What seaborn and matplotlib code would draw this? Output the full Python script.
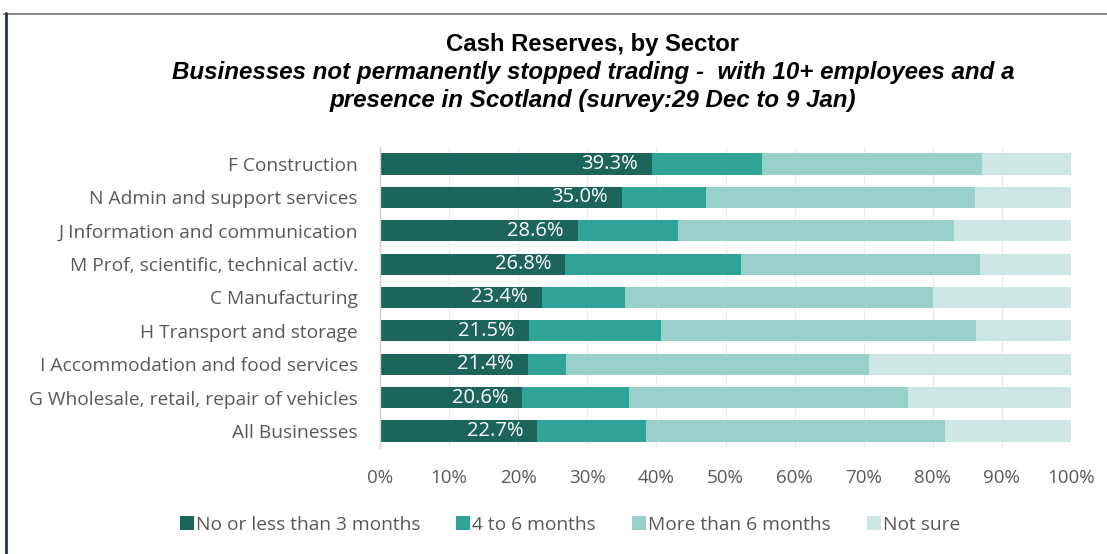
import numpy as np
import pandas as pd
import matplotlib
matplotlib.use("Agg")
import matplotlib.pyplot as plt
from matplotlib.patches import Patch
from matplotlib.lines import Line2D
from matplotlib.ticker import PercentFormatter
import seaborn as sns

# Share of businesses by cash reserves horizon, per sector (%)
sectors = [
    "F Construction",
    "N Admin and support services",
    "J Information and communication",
    "M Prof, scientific, technical activ.",
    "C Manufacturing",
    "H Transport and storage",
    "I Accommodation and food services",
    "G Wholesale, retail, repair of vehicles",
    "All Businesses",
]
under_3_months = [39.3, 35.0, 28.6, 26.8, 23.4, 21.5, 21.4, 20.6, 22.7]
months_4_to_6 = [16.0, 12.2, 14.5, 25.5, 12.0, 19.2, 5.5, 15.4, 15.8]
over_6_months = [31.8, 38.9, 39.9, 34.5, 44.7, 45.5, 43.9, 40.4, 43.2]
not_sure = [12.9, 13.9, 17.0, 13.2, 19.9, 13.8, 29.2, 23.6, 18.3]

series_names = ["No or less than 3 months", "4 to 6 months",
                "More than 6 months", "Not sure"]
colors = ["#1d645b", "#2fa398", "#97d1ca", "#cde8e4"]
tick_values = [0, 10, 20, 30, 40, 50, 60, 70, 80, 90, 100]

title = "Cash Reserves, by Sector"
subtitle_lines = [
    "Businesses not permanently stopped trading -  with 10+ employees and a",
    "presence in Scotland (survey:29 Dec to 9 Jan)",
]

text_gray = "#595959"
ui_font = ["Open Sans", "DejaVu Sans"]
title_font = ["Liberation Sans", "DejaVu Sans"]

sns.set_theme(style="white")
plt.rcParams["font.family"] = ui_font

df = pd.DataFrame({
    "sector": sectors,
    series_names[0]: under_3_months,
    series_names[1]: months_4_to_6,
    series_names[2]: over_6_months,
    series_names[3]: not_sure,
})
cumulative = df[series_names].cumsum(axis=1).assign(sector=sectors)

fig = plt.figure(figsize=(11.07, 5.54), dpi=100)
ax = fig.add_axes([380 / 1107, 1 - 447.7 / 554, (1071 - 380) / 1107,
                   (447.7 - 147.3) / 554])

# Stacked bars: draw cumulative totals from the widest down so each
# segment shows its own share.
for name, color in reversed(list(zip(series_names, colors))):
    sns.barplot(data=cumulative, x=name, y="sector", orient="h",
                color=color, saturation=1, width=0.63, linewidth=0,
                order=sectors, ax=ax, zorder=2)

# Value labels inside the first segment
for i, v in enumerate(under_3_months):
    ax.text(v - 2.0, i, f"{v:.1f}%", ha="right", va="center",
            color="white", fontsize=14.5, family=ui_font, zorder=5)

ax.set_xlim(0, 100)
ax.set_ylim(len(sectors) - 0.5, -0.5)
ax.set_xticks(tick_values)
ax.xaxis.set_major_formatter(PercentFormatter(decimals=0))
ax.set_xlabel("")
ax.set_ylabel("")
ax.grid(axis="x", color="#ececec", linewidth=1, zorder=0)
ax.set_axisbelow(True)
for side in ["top", "right", "bottom"]:
    ax.spines[side].set_visible(False)
ax.spines["left"].set_color("#d0d0d0")
ax.spines["left"].set_linewidth(1)
ax.tick_params(axis="x", length=0, pad=15, labelsize=13.5, colors=text_gray)
ax.tick_params(axis="y", length=0, pad=16, labelsize=13.8, colors=text_gray)

# Titles
fig.text(593 / 1107, 1 - 44 / 554, title, ha="center", va="center",
         fontsize=17.2, fontweight="bold", family=title_font, color="black")
for k, line in enumerate(subtitle_lines):
    fig.text(593 / 1107, 1 - (73 + 27 * k) / 554, line, ha="center",
             va="center", fontsize=17.4, fontweight="bold", style="italic",
             family=title_font, color="black")

# Legend
handles = [Patch(facecolor=c, edgecolor="none", label=n)
           for n, c in zip(series_names, colors)]
fig.legend(handles=handles, loc="center", bbox_to_anchor=(570 / 1107, 1 - 525 / 554),
           ncol=4, frameon=False, handlelength=0.72, handleheight=0.72,
           handletextpad=0.1, columnspacing=1.9, fontsize=13.8,
           labelcolor=text_gray)

# Outer frame: gray rule along the top, navy rule down the left
fig.add_artist(Line2D([4 / 1107, 1], [1 - 13.5 / 554, 1 - 13.5 / 554],
                      transform=fig.transFigure, color="#8c8c8c", linewidth=1.5))
fig.add_artist(Line2D([5.5 / 1107, 5.5 / 1107], [0, 1 - 13 / 554],
                      transform=fig.transFigure, color="#1f2f6b", linewidth=2))

fig.savefig("out.png", dpi=100, facecolor="white")
